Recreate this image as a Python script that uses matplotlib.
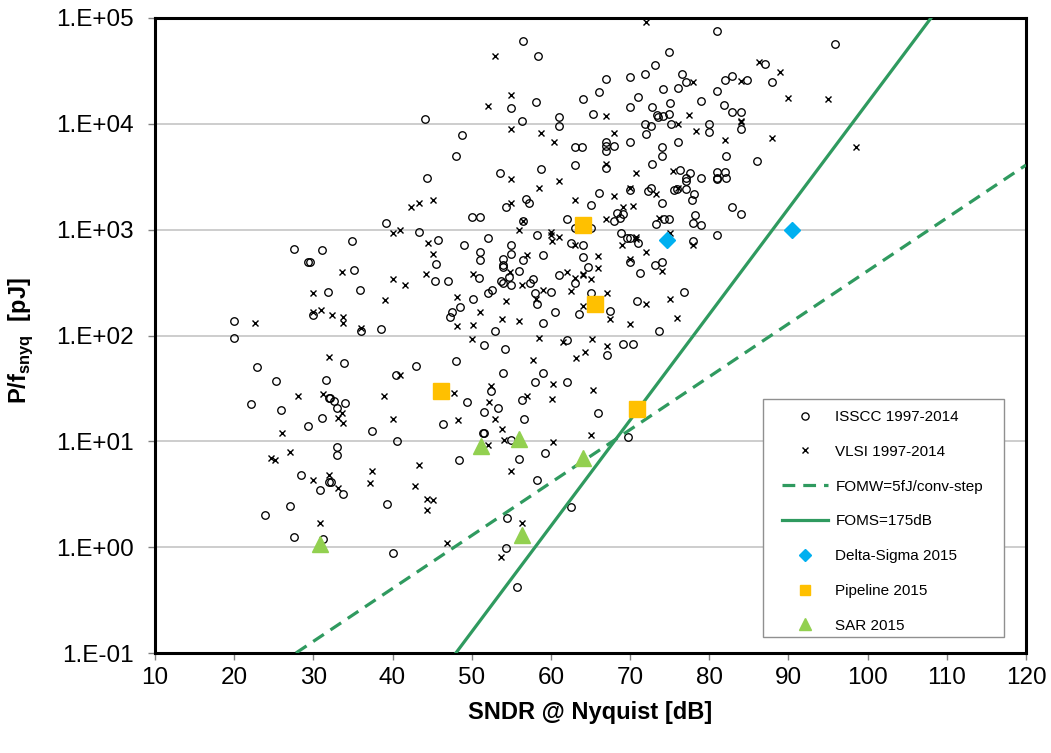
import numpy as np
import matplotlib
matplotlib.use("Agg")
import matplotlib.pyplot as plt
from matplotlib.ticker import FixedLocator, FuncFormatter, NullLocator
from matplotlib.patches import Rectangle

plt.rcParams['font.family'] = ['Liberation Sans', 'DejaVu Sans']
plt.rcParams['mathtext.fontset'] = 'custom'
plt.rcParams['mathtext.rm'] = 'Liberation Sans'
plt.rcParams['mathtext.bf'] = 'Liberation Sans:bold'

# ---------------- data ----------------
isscc = [
    (56.5, 6.0e4), (55.0, 1.4e4), (56.3, 1.07e4), (44.1, 1.1e4), (48.8, 7.9e3), (48.0, 5.0e3),
    (44.3, 3.1e3), (53.6, 3.4e3), (54.3, 1.64e3), (56.8, 1.95e3), (57.2, 1.78e3), (50.0, 1.32e3),
    (51.0, 1.33e3), (39.2, 1.15e3), (43.4, 9.5e2), (56.5, 1.2e3),
    (81.0, 7.6e4), (58.4, 4.4e4), (74.95, 4.8e4), (73.1, 3.6e4), (71.9, 2.98e4), (76.5, 2.98e4),
    (70.0, 2.77e4), (67.0, 2.64e4), (77.0, 2.5e4), (82.0, 2.57e4), (76.0, 2.2e4), (74.1, 2.14e4),
    (66.1, 1.99e4), (81.0, 2.06e4), (71.0, 1.8e4), (58.1, 1.62e4), (64.0, 1.7e4), (75.0, 1.57e4),
    (79.0, 1.65e4), (70.0, 1.43e4), (72.8, 1.43e4), (81.85, 1.5e4), (65.35, 1.25e4), (61.05, 1.17e4),
    (73.4, 1.2e4), (73.55, 1.15e4), (74.1, 1.18e4), (74.95, 1.25e4), (61.05, 9.5e3), (71.9, 9.9e3),
    (72.6, 9.5e3), (75.2, 1.0e4), (80.0, 9.9e3), (71.95, 8.0e3), (80.0, 8.3e3), (63.0, 6.1e3),
    (63.95, 6.0e3), (67.0, 6.7e3), (66.95, 6.2e3), (68.0, 6.2e3), (67.0, 5.5e3), (70.0, 6.7e3),
    (76.0, 6.8e3), (74.05, 6.0e3), (74.05, 4.95e3), (82.05, 5.0e3), (58.7, 3.76e3), (63.0, 4.07e3),
    (67.0, 3.8e3), (72.8, 4.2e3), (76.3, 3.7e3), (77.55, 3.4e3), (77.0, 3.07e3), (77.0, 2.86e3),
    (79.0, 3.1e3), (81.0, 3.5e3), (81.0, 3.1e3), (81.0, 3.0e3), (82.0, 3.5e3), (82.05, 3.1e3),
    (65.0, 1.7e3), (66.1, 2.2e3), (70.0, 2.35e3), (68.3, 1.44e3), (69.05, 1.4e3), (68.7, 1.3e3),
    (67.95, 1.2e3), (72.7, 2.5e3), (72.2, 2.3e3), (74.05, 1.8e3), (75.9, 2.4e3), (77.0, 2.4e3),
    (75.5, 2.35e3), (78.1, 2.18e3), (77.8, 1.9e3), (78.2, 1.38e3), (77.9, 1.16e3), (79.0, 1.11e3),
    (74.3, 1.26e3), (74.95, 1.26e3), (73.3, 1.14e3), (62.0, 1.27e3), (63.0, 1.04e3), (65.0, 1.04e3),
    (58.2, 8.9e2), (68.8, 9.3e2), (81.0, 9.0e2),
    (95.9, 5.7e4), (87.0, 3.7e4), (82.9, 2.83e4), (84.8, 2.6e4), (87.9, 2.5e4), (82.9, 1.3e4),
    (84.0, 1.3e4), (84.0, 9.0e3), (86.0, 4.5e3), (82.9, 1.65e3), (84.0, 1.4e3),
    (27.55, 6.6e2), (31.05, 6.4e2), (29.3, 5.0e2), (29.6, 5.0e2), (31.9, 2.57e2), (30.0, 1.55e2),
    (20.0, 1.37e2), (20.0, 95), (22.9, 50), (25.3, 37), (31.6, 38), (32.0, 25.7), (22.1, 22.3),
    (25.9, 19.9), (31.05, 16.6), (29.3, 14.0),
    (34.9, 7.9e2), (45.8, 8.0e2), (45.5, 4.7e2), (49.0, 7.2e2), (52.05, 8.3e2), (55.0, 7.1e2),
    (55.0, 5.9e2), (51.0, 6.2e2), (51.0, 5.2e2), (54.0, 5.3e2), (54.0, 4.6e2), (54.0, 4.4e2),
    (56.5, 5.2e2), (35.1, 4.2e2), (35.85, 2.7e2), (45.3, 3.3e2), (47.0, 3.3e2), (50.9, 3.5e2),
    (56.0, 4.1e2), (53.7, 3.3e2), (54.0, 3.1e2), (54.7, 3.6e2), (55.0, 3.0e2), (52.6, 2.7e2),
    (52.0, 2.5e2), (50.1, 2.2e2), (48.55, 1.85e2), (47.5, 1.68e2), (47.3, 1.5e2), (53.0, 1.11e2),
    (36.0, 1.1e2), (38.5, 1.16e2), (51.5, 82), (54.15, 75), (33.9, 55), (48.05, 58), (43.0, 51),
    (40.4, 42), (53.9, 44), (52.4, 30), (56.3, 24.5), (49.35, 23.3), (53.35, 20.5), (51.5, 18.9),
    (32.1, 25.8), (32.6, 24), (34.05, 22.8), (33.0, 20.8), (46.4, 14.6), (56.65, 16.4),
    (37.45, 12.4), (51.4, 12.1), (51.6, 12.1), (55.0, 10.3), (40.5, 10.1),
    (62.5, 7.5e2), (64.0, 7.1e2), (69.55, 8.3e2), (70.0, 8.3e2), (71.0, 7.5e2), (78.0, 7.9e2),
    (58.95, 5.8e2), (64.0, 5.5e2), (70.0, 4.9e2), (73.1, 4.6e2), (74.05, 5.0e2), (71.3, 3.9e2),
    (64.7, 4.4e2), (61.05, 3.76e2), (63.0, 3.1e2), (57.8, 3.4e2), (57.35, 3.1e2), (60.0, 2.6e2),
    (58.0, 2.5e2), (65.0, 2.5e2), (58.2, 2.0e2), (67.5, 1.72e2), (60.55, 1.68e2), (63.5, 1.6e2),
    (58.95, 1.3e2), (70.9, 2.1e2), (76.75, 2.6e2), (73.6, 1.1e2), (62.0, 90), (69.15, 83),
    (70.4, 84), (67.1, 66), (59.0, 44), (58.0, 36), (62.0, 36.5), (66.0, 18.6), (69.7, 11.1),
    (28.4, 4.8), (30.8, 3.45), (32.0, 4.1), (27.1, 2.45), (23.9, 2.0), (27.55, 1.26), (31.2, 1.19),
    (33.0, 8.9), (33.0, 7.4), (32.2, 4.1), (33.8, 3.2), (39.3, 2.55), (48.4, 6.7), (56.0, 6.8),
    (54.5, 1.9), (40.1, 0.885), (54.3, 0.99), (55.75, 0.42),
    (59.3, 7.7), (58.3, 4.3), (62.6, 2.4),
]
vlsi = [
    (53.0, 4.4e4), (55.0, 1.86e4), (52.0, 1.48e4), (55.0, 9.0e3), (55.0, 3.0e3), (42.3, 1.65e3),
    (43.4, 1.78e3), (45.1, 1.9e3), (55.0, 1.78e3), (41.0, 1.0e3), (40.1, 9.3e2), (56.5, 1.2e3),
    (56.0, 1.0e3),
    (71.95, 9.2e4), (78.0, 2.5e4), (67.0, 1.18e4), (77.4, 1.2e4), (76.0, 1.0e4), (58.8, 8.2e3),
    (68.0, 8.2e3), (78.3, 8.5e3), (60.4, 6.7e3), (82.0, 7.0e3), (67.0, 4.2e3), (70.7, 3.4e3),
    (75.4, 3.6e3), (61.05, 2.9e3), (58.5, 2.5e3), (63.0, 1.9e3), (68.0, 2.06e3), (70.0, 2.5e3),
    (69.05, 1.64e3), (70.4, 1.68e3), (67.0, 1.25e3), (73.3, 2.17e3), (76.05, 2.5e3), (73.6, 1.3e3),
    (60.0, 9.5e2), (75.0, 9.2e2),
    (86.26, 3.8e4), (88.95, 3.1e4), (84.0, 2.56e4), (89.9, 1.76e4), (95.0, 1.73e4), (84.0, 1.07e4),
    (84.0, 1.04e4), (87.9, 7.4e3), (98.55, 6.1e3),
    (30.0, 2.5e2), (30.0, 1.67e2), (31.0, 1.74e2), (32.3, 1.55e2), (22.6, 1.3e2), (32.0, 63),
    (28.1, 27), (31.2, 28), (26.0, 12.1),
    (44.5, 7.5e2), (45.05, 5.9e2), (57.0, 5.8e2), (33.6, 4.0e2), (40.05, 3.45e2), (41.6, 3.0e2),
    (44.2, 3.8e2), (50.1, 3.8e2), (54.8, 4.0e2), (56.3, 3.0e2), (48.1, 2.3e2), (54.3, 2.14e2),
    (51.0, 1.66e2), (48.1, 1.23e2), (50.1, 1.26e2), (53.8, 1.42e2), (56.0, 1.36e2), (39.05, 2.15e2),
    (33.7, 1.5e2), (33.8, 1.32e2), (36.0, 1.17e2), (50.0, 93), (41.0, 42), (47.7, 28.8),
    (52.4, 33), (57.0, 27), (52.2, 23.7), (38.9, 26.8), (33.6, 18.6), (33.1, 16.7), (33.7, 15),
    (40.05, 16.1), (48.3, 15.9), (52.9, 16.3), (53.8, 13), (54.1, 10.3),
    (60.0, 9.0e2), (60.1, 7.8e2), (61.05, 8.5e2), (63.0, 7.1e2), (70.75, 8.1e2), (70.8, 8.5e2),
    (69.0, 7.1e2), (78.0, 7.2e2), (71.95, 6.2e2), (66.0, 5.6e2), (70.0, 5.3e2), (74.0, 4.1e2),
    (66.0, 4.3e2), (62.0, 3.95e2), (63.0, 3.5e2), (64.0, 3.8e2), (64.1, 3.7e2), (65.0, 3.4e2),
    (59.0, 2.7e2), (62.5, 2.66e2), (67.1, 2.5e2), (58.1, 2.2e2), (64.0, 1.9e2), (67.5, 1.44e2),
    (72.0, 2.0e2), (75.1, 2.2e2), (75.9, 1.47e2), (70.0, 1.28e2), (58.5, 94), (61.5, 87),
    (65.2, 92), (67.1, 79), (64.3, 70), (63.2, 61.5), (57.7, 58.5), (60.3, 35), (65.3, 30.7),
    (60.1, 25.3), (65.0, 11.4), (60.3, 9.9),
    (24.6, 6.9), (25.1, 6.7), (27.1, 7.9), (30.0, 4.3), (32.0, 4.8), (30.9, 1.7),
    (33.1, 3.66), (37.45, 5.2), (37.1, 4.0), (43.4, 6.0), (42.8, 3.8), (44.4, 2.84), (45.15, 2.8),
    (44.3, 2.23), (52.1, 9.2), (55.0, 5.25), (56.35, 1.7), (46.9, 1.1), (53.7, 0.8),
]
isscc_x = [p[0] for p in isscc]
isscc_y = [p[1] for p in isscc]
vlsi_x = [p[0] for p in vlsi]
vlsi_y = [p[1] for p in vlsi]

ds_x = [74.6, 90.4]
ds_y = [8.0e2, 1.0e3]
pipe_x = [64.0, 65.6, 46.1, 70.9]
pipe_y = [1.1e3, 2.0e2, 30.0, 20.0]
sar_x = [30.9, 51.2, 56.0, 56.4, 64.1]
sar_y = [1.07, 9.0, 10.5, 1.3, 7.0]

# reference lines (end points)
fomw_x = [27.8, 120.0]
fomw_y = [0.1, 4.08e3]
foms_x = [48.0, 108.0]
foms_y = [0.1, 1.0e5]

xticks = [10, 20, 30, 40, 50, 60, 70, 80, 90, 100, 110, 120]
yticks = [1e-1, 1e0, 1e1, 1e2, 1e3, 1e4, 1e5]

# ---------------- figure ----------------
W, H = 1051, 753
fig = plt.figure(figsize=(W / 100, H / 100), dpi=100)
L, R, T, B = 155, 1026, 18, 653
ax = fig.add_axes([L / W, 1 - B / H, (R - L) / W, (B - T) / H])

green = '#2f9a5f'
ax.plot(isscc_x, isscc_y, ls='none', marker='o', ms=5.4, mfc='none', mec='black', mew=0.95,
        label='ISSCC 1997-2014', zorder=3)
ax.plot(vlsi_x, vlsi_y, ls='none', marker='x', ms=4.8, mec='black', mew=1.0,
        label='VLSI 1997-2014', zorder=3)
ax.plot(fomw_x, fomw_y, color=green, lw=2.3, ls=(0, (4, 2.5)), label='FOMW=5fJ/conv-step', zorder=4)
ax.plot(foms_x, foms_y, color=green, lw=2.3, ls='-', label='FOMS=175dB', zorder=4)
ax.plot(ds_x, ds_y, ls='none', marker='D', ms=8.5, mfc='#00B0F0', mec='#00B0F0',
        label='Delta-Sigma 2015', zorder=5)
ax.plot(pipe_x, pipe_y, ls='none', marker='s', ms=11.5, mfc='#FFC000', mec='#FFC000',
        label='Pipeline 2015', zorder=5)
ax.plot(sar_x, sar_y, ls='none', marker='^', ms=12, mfc='#92D050', mec='#92D050',
        label='SAR 2015', zorder=5)

ax.set_yscale('log')
ax.set_xlim(10, 120)
ax.set_ylim(0.1, 1e5)
ax.xaxis.set_major_locator(FixedLocator(xticks))
ax.yaxis.set_major_locator(FixedLocator(yticks))
ax.yaxis.set_minor_locator(NullLocator())
ax.xaxis.set_minor_locator(NullLocator())
ax.yaxis.set_major_formatter(FuncFormatter(lambda v, p: "1.E%+03d" % int(round(np.log10(v)))))
ax.yaxis.grid(True, color='#c0c0c0', lw=1.1)
ax.set_axisbelow(True)
for s in ax.spines.values():
    s.set_linewidth(2.2)
    s.set_color('black')
ax.tick_params(axis='both', direction='out', length=5, width=1, color='#808080',
               labelsize=17.5)
ax.tick_params(axis='y', pad=10)
ax.tick_params(axis='x', pad=5)

fig.text(590 / W, 1 - 712 / H, 'SNDR @ Nyquist [dB]', ha='center', va='center',
         fontsize=17, fontweight='bold')
fig.text(21 / W, 1 - 341 / H, r'P/f$_{\mathbf{snyq}}$  [pJ]', ha='center', va='center',
         rotation=90, fontsize=17, fontweight='bold')

# legend
fig.patches.append(Rectangle((763 / W, 1 - 637 / H), (1004 - 763) / W, (637 - 399) / H,
                             transform=fig.transFigure, facecolor='white', edgecolor='#909090',
                             lw=1.0, zorder=6))
leg = fig.legend(loc='upper left', bbox_to_anchor=(782 / W, 1 - 410 / H),
                 bbox_transform=fig.transFigure, frameon=False, fontsize=11,
                 borderpad=0, borderaxespad=0, handlelength=3.0, handletextpad=0.5,
                 labelspacing=1.36, markerscale=1.0)
leg.set_zorder(7)
for h in leg.legend_handles:
    m = h.get_marker()
    if m == 'o':
        h.set_markersize(5.2)
    elif m == 'x':
        h.set_markersize(4.8)
    elif m == 'D':
        h.set_markersize(6.5)
    elif m == 's':
        h.set_markersize(7.5)
    elif m == '^':
        h.set_markersize(8)

fig.savefig('out.png', dpi=100)
